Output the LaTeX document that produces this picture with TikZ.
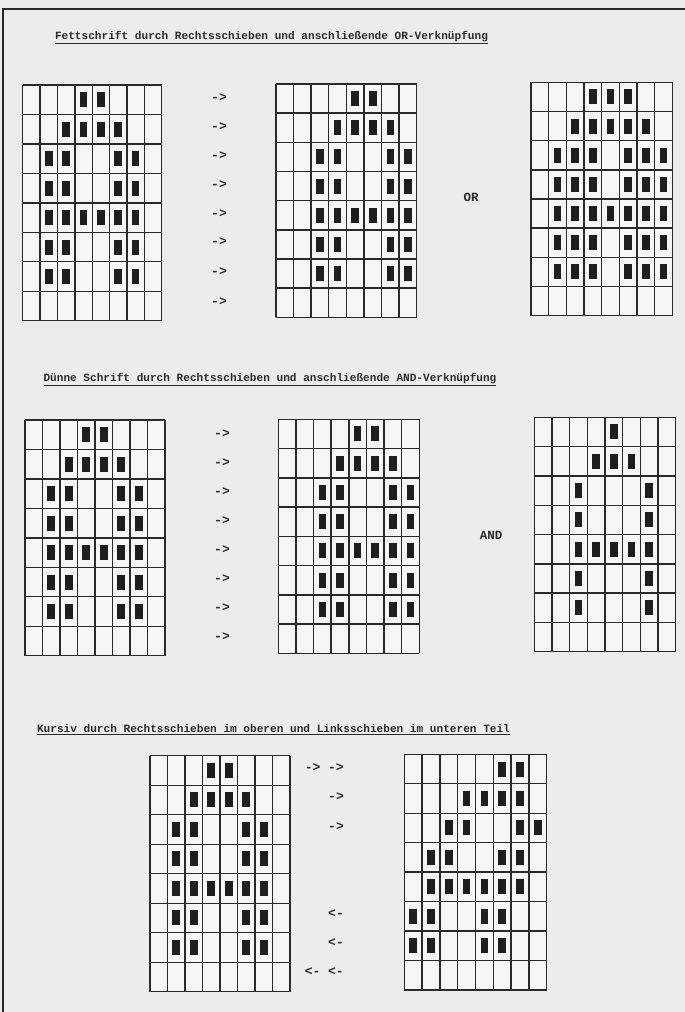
\documentclass[tikz,border=0pt]{standalone}
\usepackage{fontspec}
\setmonofont{Liberation Mono}
\definecolor{paper}{HTML}{ECECEA}
\definecolor{cellw}{HTML}{F6F6F4}
\definecolor{ink}{HTML}{2A2A2A}
\definecolor{pixc}{HTML}{1E1E1E}
\tikzset{
  gridline/.style={draw=ink,line width=1.4pt},
  pix/.style={fill=pixc},
  ttl/.style={font=\ttfamily\bfseries\fontsize{11.1}{13}\selectfont,text=ink,inner sep=0pt},
  arr/.style={font=\ttfamily\bfseries\fontsize{13}{15}\selectfont,text=ink,inner sep=0pt},
  op/.style={font=\ttfamily\bfseries\fontsize{12.5}{14}\selectfont,text=ink,inner sep=0pt},
  frame/.style={draw=ink,line width=1.2pt}
}
% #1 x0, #2 y0, #3 width, #4 height, #5 list row/col
\newcommand{\pixgrid}[5]{%
  \begin{scope}[shift={(#1,#2)}]
    \fill[cellw] (0,0) rectangle (#3,#4);
    \foreach \ii in {0,...,8} {\draw[gridline] ({\ii*#3/8},0) -- ({\ii*#3/8},#4);}
    \foreach \jj in {0,...,8} {\draw[gridline] (0,{\jj*#4/8}) -- (#3,{\jj*#4/8});}
    \foreach \rr/\cc in {#5} {\fill[pix] ({(\cc+0.5)*#3/8-3.8},{(\rr+0.5)*#4/8-7.5}) rectangle ++(7.6,15);}
  \end{scope}}
\begin{document}
\begin{tikzpicture}[x=1pt,y=-1pt]
\useasboundingbox (0,0) rectangle (685,1012);
\fill[paper] (0,0) rectangle (685,1012);
\draw[frame] (3,1012) -- (3,9) -- (685,9);

% titles
\node[ttl] (t1) at (271.5,38) {\underline{Fettschrift durch Rechtsschieben und anschließende OR-Verknüpfung}};
\node[ttl] (t2) at (270,380) {\underline{Dünne Schrift durch Rechtsschieben und anschließende AND-Verknüpfung}};
\node[ttl] (t3) at (273.5,730) {\underline{Kursiv durch Rechtsschieben im oberen und Linksschieben im unteren Teil}};

% section 1
\pixgrid{22.7}{85}{139}{235.7}{0/3,0/4,1/2,1/3,1/4,1/5,2/1,2/2,2/5,2/6,3/1,3/2,3/5,3/6,4/1,4/2,4/3,4/4,4/5,4/6,5/1,5/2,5/5,5/6,6/1,6/2,6/5,6/6}
\pixgrid{276}{84}{140.7}{233.3}{0/4,0/5,1/3,1/4,1/5,1/6,2/2,2/3,2/6,2/7,3/2,3/3,3/6,3/7,4/2,4/3,4/4,4/5,4/6,4/7,5/2,5/3,5/6,5/7,6/2,6/3,6/6,6/7}
\pixgrid{531}{82.3}{141.3}{233.4}{0/3,0/4,0/5,1/2,1/3,1/4,1/5,1/6,2/1,2/2,2/3,2/5,2/6,2/7,3/1,3/2,3/3,3/5,3/6,3/7,4/1,4/2,4/3,4/4,4/5,4/6,4/7,5/1,5/2,5/3,5/5,5/6,5/7,6/1,6/2,6/3,6/5,6/6,6/7}
\foreach \yy [count=\k] in {97.7,126.7,156,184.3,213.3,241.7,271.7,301.7}
  {\node[arr] (a1-\k) at (219,\yy) {->};}
\node[op] (or) at (471,197) {OR};

% section 2
\pixgrid{25}{420}{140}{235.7}{0/3,0/4,1/2,1/3,1/4,1/5,2/1,2/2,2/5,2/6,3/1,3/2,3/5,3/6,4/1,4/2,4/3,4/4,4/5,4/6,5/1,5/2,5/5,5/6,6/1,6/2,6/5,6/6}
\pixgrid{278.3}{419.3}{141}{234}{0/4,0/5,1/3,1/4,1/5,1/6,2/2,2/3,2/6,2/7,3/2,3/3,3/6,3/7,4/2,4/3,4/4,4/5,4/6,4/7,5/2,5/3,5/6,5/7,6/2,6/3,6/6,6/7}
\pixgrid{534.3}{417.3}{141.4}{234.4}{0/4,1/3,1/4,1/5,2/2,2/6,3/2,3/6,4/2,4/3,4/4,4/5,4/6,5/2,5/6,6/2,6/6}
\foreach \yy [count=\k] in {434,463,492,521,550,579,608,637}
  {\node[arr] (a2-\k) at (222,\yy) {->};}
\node[op] (and) at (491,535) {AND};

% section 3
\pixgrid{150}{755.7}{140}{236}{0/3,0/4,1/2,1/3,1/4,1/5,2/1,2/2,2/5,2/6,3/1,3/2,3/5,3/6,4/1,4/2,4/3,4/4,4/5,4/6,5/1,5/2,5/5,5/6,6/1,6/2,6/5,6/6}
\pixgrid{404.3}{754.3}{142.4}{235.7}{0/5,0/6,1/3,1/4,1/5,1/6,2/2,2/3,2/6,2/7,3/1,3/2,3/5,3/6,4/1,4/2,4/3,4/4,4/5,4/6,5/0,5/1,5/4,5/5,6/0,6/1,6/4,6/5}
\node[arr,anchor=east] (a3-1) at (344,768) {-> ->};
\node[arr,anchor=east] (a3-2) at (344,797) {->};
\node[arr,anchor=east] (a3-3) at (344,827) {->};
\node[arr,anchor=east] (a3-6) at (344,914) {<-};
\node[arr,anchor=east] (a3-7) at (344,943) {<-};
\node[arr,anchor=east] (a3-8) at (344,972) {<- <-};
\end{tikzpicture}
\end{document}
